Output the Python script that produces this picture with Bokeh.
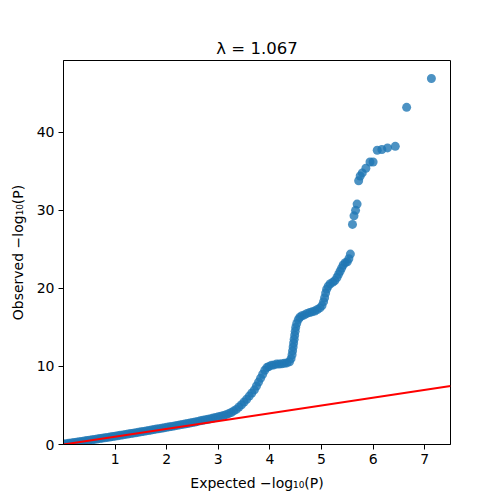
from bokeh.plotting import figure
from bokeh.models import Range1d, FixedTicker
from bokeh.embed import file_html
from bokeh.resources import INLINE

# Expected vs observed -log10(P)
expected = [
    0.0, 0.05, 0.1, 0.15, 0.2, 0.25, 0.3, 0.35, 0.4, 0.45, 0.5, 0.55, 0.6, 0.65, 0.7, 0.75,
    0.8, 0.85, 0.9, 0.95, 1.0, 1.05, 1.1, 1.15, 1.2, 1.25, 1.3, 1.35, 1.4, 1.45, 1.5, 1.55,
    1.6, 1.65, 1.7, 1.75, 1.8, 1.85, 1.9, 1.95, 2.0, 2.05, 2.1, 2.15, 2.2, 2.25, 2.3, 2.35,
    2.4, 2.45, 2.5, 2.55, 2.6, 2.65, 2.7, 2.75, 2.8, 2.85, 2.9, 2.95, 3.0,
    3.05, 3.1, 3.15, 3.2, 3.25, 3.3, 3.35, 3.4, 3.45, 3.5, 3.55, 3.6, 3.65, 3.7, 3.74,
    3.78, 3.82, 3.86, 3.9, 3.94, 3.98, 4.03, 4.08, 4.13, 4.18, 4.23, 4.28, 4.33, 4.38,
    4.41, 4.43, 4.44, 4.45, 4.46, 4.47, 4.48, 4.49, 4.5, 4.52, 4.55, 4.58, 4.62, 4.67,
    4.72, 4.77, 4.82, 4.87, 4.92, 4.97, 5.01, 5.04, 5.06, 5.08, 5.1, 5.13, 5.17, 5.22,
    5.26, 5.3, 5.33, 5.36, 5.39, 5.42, 5.46, 5.5, 5.53, 5.56,
    5.60, 5.63, 5.66, 5.69, 5.72, 5.75, 5.79, 5.86, 5.94, 6.0, 6.08, 6.17, 6.28, 6.43,
    6.65, 7.13,
]
observed = [
    0.05, 0.1, 0.15, 0.2, 0.25, 0.3, 0.35, 0.4, 0.45, 0.5, 0.55, 0.6, 0.65, 0.7, 0.76, 0.81,
    0.86, 0.91, 0.96, 1.02, 1.07, 1.12, 1.18, 1.23, 1.29, 1.34, 1.4, 1.45, 1.51, 1.56, 1.62, 1.68,
    1.74, 1.79, 1.85, 1.91, 1.97, 2.03, 2.08, 2.14, 2.2, 2.26, 2.32, 2.38, 2.45, 2.51, 2.57, 2.63,
    2.69, 2.76, 2.82, 2.89, 2.96, 3.03, 3.1, 3.17, 3.24, 3.31, 3.39, 3.47, 3.55,
    3.63, 3.72, 3.82, 3.95, 4.1, 4.3, 4.5, 4.8, 5.1, 5.45, 5.8, 6.2, 6.6, 7.0, 7.5,
    8.0, 8.5, 9.0, 9.5, 9.85, 10.0, 10.15, 10.2, 10.3, 10.3, 10.35, 10.4, 10.45, 10.6,
    11.0, 11.5, 12.0, 12.5, 13.0, 13.5, 14.0, 14.5, 15.0, 15.5, 16.0, 16.3, 16.5, 16.6,
    16.8, 16.9, 17.0, 17.1, 17.3, 17.5, 17.8, 18.3, 18.8, 19.4, 19.9, 20.3, 20.6, 20.8,
    21.0, 21.4, 21.8, 22.2, 22.6, 23.0, 23.3, 23.4, 23.8, 24.4,
    28.2, 29.3, 30.0, 30.8, 33.8, 34.4, 34.8, 35.4, 36.2, 36.2, 37.7, 37.8, 38.0, 38.2,
    43.2, 46.9,
]
null_line_x = [0.0, 7.5]
null_line_y = [0.0, 7.5]
x_ticks = [1, 2, 3, 4, 5, 6, 7]
y_ticks = [0, 10, 20, 30, 40]
title_text = "λ = 1.067"

FONT = "DejaVu Sans"

p = figure(width=500, height=500, output_backend="svg", toolbar_location=None,
           x_range=Range1d(0.0, 7.5), y_range=Range1d(0, 49.2),
           min_border_left=63, min_border_right=50, min_border_top=60, min_border_bottom=56)

p.title.text = title_text
p.title.align = "center"
p.title.text_font = FONT
p.title.text_font_size = "16.5px"
p.title.text_font_style = "normal"
p.title.text_color = "black"
p.title.standoff = 5

p.scatter(expected, observed, size=9, fill_color="#1f77b4", fill_alpha=0.8, line_color=None)
p.line(null_line_x, null_line_y, line_color="red", line_width=2)

p.grid.visible = False
p.outline_line_color = "black"
p.outline_line_width = 1
p.outline_line_alpha = 1
p.background_fill_color = "white"
p.border_fill_color = "white"

p.xaxis.ticker = FixedTicker(ticks=x_ticks)
p.yaxis.ticker = FixedTicker(ticks=y_ticks)
p.xaxis.axis_label = "Expected −log₁₀(P)"
p.yaxis.axis_label = "Observed −log₁₀(P)"

for ax in (p.xaxis, p.yaxis):
    ax.axis_label_text_font = FONT
    ax.axis_label_text_font_size = "14px"
    ax.axis_label_text_font_style = "normal"
    ax.axis_label_text_color = "black"
    ax.major_label_text_font = FONT
    ax.major_label_text_font_size = "14px"
    ax.major_label_text_color = "black"
    ax.minor_tick_line_color = None
    ax.major_tick_in = 0
    ax.major_tick_out = 5
    ax.major_tick_line_color = "black"
    ax.axis_line_color = "black"
    ax.major_label_standoff = 4
    ax.axis_label_standoff = 8

open("out.html", "w").write(file_html(p, INLINE))
